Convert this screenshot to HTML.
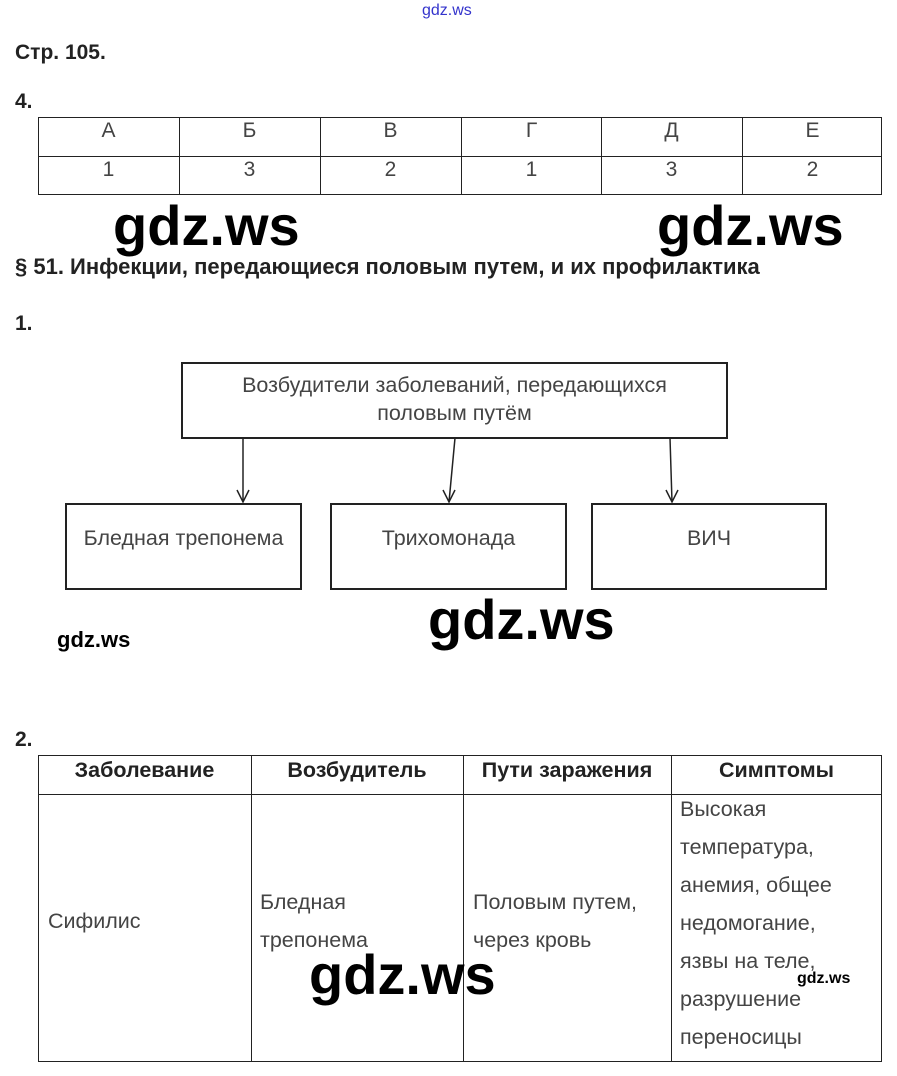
<!DOCTYPE html>
<html><head><meta charset="utf-8"><style>
body{margin:0;width:897px;height:1076px;background:#fff;position:relative;overflow:hidden;font-family:"Liberation Sans",sans-serif;color:#333}
div{position:absolute}
.b{font-weight:bold;color:#222;font-size:21px}
.box{border:2px solid #222;box-sizing:border-box;text-align:center;font-size:21.5px;color:#444}
.wm{font-family:"Liberation Sans",sans-serif;color:#000;font-size:56px;line-height:1;font-weight:bold}
.c{font-size:21px;color:#444;text-align:center;width:141px}
.v{background:#222;width:1px}
.h{background:#222;height:1px}
.t{font-size:21.5px;color:#444}
.th{font-size:21.5px;font-weight:bold;color:#222;text-align:center}
</style></head><body>
<div style="left:422px;top:2px;font-size:16px;color:#33c">gdz.ws</div>
<div class="b" style="left:15px;top:41px">Стр. 105.</div>
<div class="b" style="left:15px;top:90px">4.</div>
<div style="left:38px;top:117px;width:844px;height:78px;border:1px solid #222;box-sizing:border-box"></div>
<div class="h" style="left:38px;top:156px;width:844px"></div>
<div class="v" style="left:179px;top:117px;height:78px"></div>
<div class="v" style="left:320px;top:117px;height:78px"></div>
<div class="v" style="left:461px;top:117px;height:78px"></div>
<div class="v" style="left:601px;top:117px;height:78px"></div>
<div class="v" style="left:742px;top:117px;height:78px"></div>
<div class="c" style="left:38px;top:119px">А</div><div class="c" style="left:179px;top:119px">Б</div><div class="c" style="left:320px;top:119px">В</div><div class="c" style="left:461px;top:119px">Г</div><div class="c" style="left:601px;top:119px">Д</div><div class="c" style="left:742px;top:119px">Е</div>
<div class="c" style="left:38px;top:158px">1</div><div class="c" style="left:179px;top:158px">3</div><div class="c" style="left:320px;top:158px">2</div><div class="c" style="left:461px;top:158px">1</div><div class="c" style="left:601px;top:158px">3</div><div class="c" style="left:742px;top:158px">2</div>
<div class="wm" style="left:113px;top:198px">gdz.ws</div>
<div class="wm" style="left:657px;top:198px">gdz.ws</div>
<div class="b" style="left:15px;top:254px;font-size:22px">§ 51. Инфекции, передающиеся половым путем, и их профилактика</div>
<div class="b" style="left:15px;top:312px">1.</div>
<div class="box" style="left:181px;top:362px;width:547px;height:77px;padding-top:7px;line-height:28px">Возбудители заболеваний, передающихся<br>половым путём</div>
<svg style="position:absolute;left:0;top:0" width="897" height="1076">
<g stroke="#222" stroke-width="1.5" fill="none">
<line x1="243" y1="438" x2="243" y2="502"/><polyline points="237,490 243,502 249,490"/>
<line x1="455" y1="438" x2="449" y2="502"/><polyline points="443,490 449,502 455,490"/>
<line x1="670" y1="438" x2="672" y2="502"/><polyline points="666,490 672,502 678,490"/>
</g></svg>
<div class="box" style="left:65px;top:503px;width:237px;height:87px;padding-top:21px">Бледная трепонема</div>
<div class="box" style="left:330px;top:503px;width:237px;height:87px;padding-top:21px">Трихомонада</div>
<div class="box" style="left:591px;top:503px;width:236px;height:87px;padding-top:21px">ВИЧ</div>
<div class="wm" style="left:428px;top:592px">gdz.ws</div>
<div style="left:57px;top:627px;font-size:22px;font-weight:bold;color:#000">gdz.ws</div>
<div class="b" style="left:15px;top:728px">2.</div>
<div style="left:38px;top:755px;width:844px;height:307px;border:1px solid #222;box-sizing:border-box"></div>
<div class="h" style="left:38px;top:794px;width:844px"></div>
<div class="v" style="left:251px;top:755px;height:307px"></div>
<div class="v" style="left:463px;top:755px;height:307px"></div>
<div class="v" style="left:671px;top:755px;height:307px"></div>
<div class="th" style="left:38px;top:758px;width:213px">Заболевание</div>
<div class="th" style="left:251px;top:758px;width:212px">Возбудитель</div>
<div class="th" style="left:463px;top:758px;width:208px">Пути заражения</div>
<div class="th" style="left:671px;top:758px;width:211px">Симптомы</div>
<div class="t" style="left:48px;top:909px">Сифилис</div>
<div class="t" style="left:260px;top:883px;line-height:38px">Бледная<br>трепонема</div>
<div class="t" style="left:473px;top:883px;line-height:38px">Половым путем,<br>через кровь</div>
<div class="t" style="left:680px;top:790px;line-height:38px">Высокая<br>температура,<br>анемия, общее<br>недомогание,<br>язвы на теле,<br>разрушение<br>переносицы</div>
<div class="wm" style="left:309px;top:947px">gdz.ws</div>
<div style="left:797px;top:970px;font-size:16px;font-weight:bold;color:#000">gdz.ws</div>
</body></html>
